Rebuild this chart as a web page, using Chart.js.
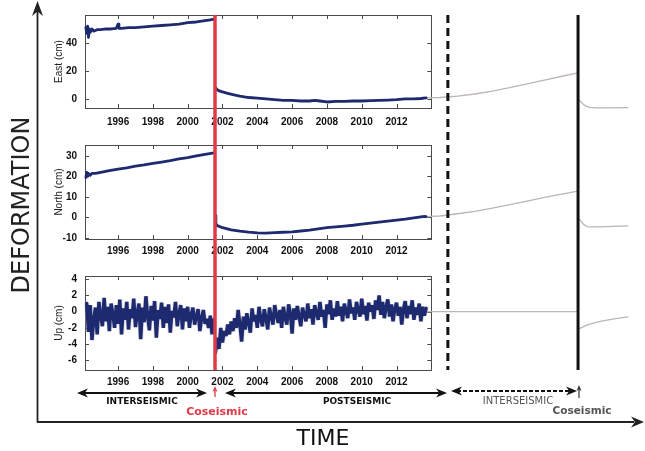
<!DOCTYPE html>
<html>
<head>
<meta charset="utf-8">
<script src="https://cdn.jsdelivr.net/npm/chart.js@4.4.1/dist/chart.umd.min.js"></script>
<style>
  html, body { margin: 0; padding: 0; background: #fff; }
  #wrap { position: relative; width: 645px; height: 451px; overflow: hidden; background: #fff; }
  #wrap canvas { position: absolute; left: 0; }
  #overlay { position: absolute; left: 0; top: 0; }
</style>
</head>
<body>
<div id="wrap">
  <canvas id="east" width="645" height="128" style="top:0px"></canvas>
  <canvas id="north" width="645" height="134" style="top:128px"></canvas>
  <canvas id="up" width="645" height="130" style="top:262px"></canvas>
  <svg id="overlay" width="645" height="451"></svg>
</div>
<script>
// time axis (decimal years)
const X_MIN = 1994.1;
const X_MAX = 2025.3;
const BOX_END = 2014.0;
const quakeYear = 2001.57;
const nextCycleYear = 2014.95;
const nextQuakeYear = 2022.43;
const xTicks = [1996, 1998, 2000, 2002, 2004, 2006, 2008, 2010, 2012];

// East (cm)
const eastPreYears = [1994.15, 1994.2, 1994.25, 1994.3, 1994.35, 1994.4, 1994.5, 1994.6, 1994.8, 1995.0, 1995.3, 1995.6, 1995.9, 1996.0, 1996.05, 1996.2, 1996.6, 1997.0, 1997.5, 1998.0, 1998.5, 1999.0, 1999.5, 2000.0, 2000.5, 2001.0, 2001.3, 2001.52];
const eastPreValues = [51, 47, 52, 44, 50, 47.5, 50, 48.5, 49.5, 49.5, 50, 50, 50.5, 53.5, 50.5, 50.5, 51, 51, 51.5, 52, 52.5, 53, 53.5, 54.5, 55, 56, 56.5, 57];
const eastPostYears = [2001.6, 2001.7, 2001.85, 2002.0, 2002.3, 2002.6, 2003.0, 2003.5, 2004.0, 2004.5, 2005.0, 2005.5, 2006.0, 2006.5, 2007.0, 2007.3, 2007.6, 2008.0, 2008.5, 2009.0, 2009.5, 2010.0, 2010.5, 2011.0, 2011.5, 2012.0, 2012.5, 2013.0, 2013.4, 2013.7];
const eastPostValues = [8, 6.5, 5.5, 5, 4, 3, 2, 1, 0.5, 0, -0.5, -1, -1, -1.5, -1.5, -1, -1.5, -2.2, -1.8, -1.7, -1.5, -1.5, -1.2, -1, -0.8, -0.5, 0, 0, 0.3, 0.7];
const eastFutureYears = [2013.7, 2014.5, 2015.5, 2016.5, 2017.5, 2018.5, 2019.5, 2020.5, 2021.5, 2022.43];
const eastFutureValues = [0.7, 1, 2, 3.5, 5.6, 8, 10.8, 13.5, 16.2, 18.6];
const eastNextYears = [2022.5, 2022.65, 2022.85, 2023.1, 2023.5, 2024.2, 2025.3];
const eastNextValues = [-0.7, -3, -5, -6, -6.4, -6.4, -6.2];

// North (cm)
const northPreYears = [1994.15, 1994.2, 1994.25, 1994.3, 1994.4, 1994.5, 1994.7, 1995.0, 1995.5, 1996.0, 1996.5, 1997.0, 1997.5, 1998.0, 1998.5, 1999.0, 1999.5, 2000.0, 2000.5, 2001.0, 2001.52];
const northPreValues = [19.5, 22, 20, 21.5, 20.5, 21.5, 21.5, 22, 22.8, 23.5, 24.2, 25, 25.6, 26.3, 27, 27.7, 28.5, 29.2, 30, 30.7, 31.5];
const northPostYears = [2001.58, 2001.62, 2001.7, 2002.0, 2002.5, 2003.0, 2003.5, 2004.0, 2004.5, 2005.0, 2005.5, 2006.0, 2006.5, 2007.0, 2007.5, 2008.0, 2008.5, 2009.0, 2009.5, 2010.0, 2010.5, 2011.0, 2011.5, 2012.0, 2012.5, 2013.0, 2013.6, 2013.7];
const northPostValues = [1, -3, -4, -5, -6, -6.7, -7.2, -7.5, -7.6, -7.4, -7.2, -7, -6.6, -6.2, -5.6, -5, -4.6, -4.2, -3.8, -3.3, -2.8, -2.3, -1.8, -1.3, -0.8, -0.2, 0.5, 0.4];
const northFutureYears = [2013.7, 2014.5, 2015.5, 2016.5, 2017.5, 2018.5, 2019.5, 2020.5, 2021.5, 2022.43];
const northFutureValues = [0.4, 0.7, 1.8, 3, 4.5, 6.2, 8, 9.8, 11.4, 12.8];
const northNextYears = [2022.5, 2022.7, 2022.95, 2023.5, 2024.5, 2025.3];
const northNextValues = [-0.7, -3, -4.5, -4.6, -4.3, -4.1];

// Up (cm), sampled every 0.1 yr
const upPreStart = 1994.2;
const upPostStart = 2001.6;
const upStep = 0.1;
const upPreValues = [
  1.0, -2.5, 0.8, -3.5, -1.0, 0.5, -2.8, 1.2, -0.5, -1.8,
  1.7, -1.2, 0.6, -2.4, 1.0, -0.3, -2.0, 0.8, -1.5, 1.5,
  -2.8, 0.4, -1.0, 1.2, -2.2, 0.3, -0.8, 1.6, -1.9, -0.2,
  1.0, -3.4, 0.5, -1.3, 1.9, -0.6, -2.3, 0.7, -1.1, 1.3,
  -3.2, 0.2, -0.9, 1.1, -2.0, 0.6, -1.4, 0.9, -2.6, 0.1,
  -0.7, 1.2, -1.8, -0.3, 0.8, -2.2, 0.4, -1.2, 0.6, -2.0,
  -0.4, 0.5, -1.6, -0.6, 0.3, -2.4, -0.8, 0.2, -1.5, -0.9,
  -2.0, -0.5, -2.8, -1.0
];
const upPostValues = [
  -5.0, -3.2, -4.6, -2.0, -3.8, -2.4, -3.0, -1.6, -2.8, -1.2,
  -2.4, -0.8, -2.0, 0.2, -1.6, -3.7, -0.6, -2.2, -0.2, -1.4,
  -2.6, 0.4, -1.2, -0.4, -2.0, 0.6, -1.0, -1.8, 0.3, -0.8,
  -2.2, 0.5, -0.6, -1.6, 0.8, -0.4, -1.4, 0.2, -2.0, 0.6,
  -0.8, -1.6, 0.9, -0.2, -2.7, 0.4, -1.0, 0.7, -0.6, -1.8,
  0.5, -0.4, -1.2, 1.0, -0.8, 0.3, -1.6, 0.8, -0.2, -1.0,
  1.2, -0.6, 0.2, -2.0, 0.9, -0.3, 1.4, -1.0, 0.4, -0.6,
  1.3, -0.5, 0.6, -1.2, 1.0, 0.0, -0.8, 1.5, -0.2, 0.5,
  -1.0, 1.2, 0.2, -0.6, 1.6, -0.3, 0.7, -1.1, 1.1, 0.0,
  0.8, -0.9, 1.4, 0.2, 2.0, -0.4, 1.2, -0.8, 0.6, 1.5,
  -0.6, 0.9, -1.2, 0.4, 1.1, -0.5, 0.6, -1.6, 0.3, 1.3,
  -0.8, 0.7, -0.3, 1.4, -1.0, 0.5, -0.4, 1.0, -1.2, 0.6,
  -0.5, 0.4
];
const upFutureYears = [2013.7, 2022.43];
const upFutureValues = [0, 0];
const upNextYears = [2022.5, 2023.0, 2023.7, 2024.5, 2025.3];
const upNextValues = [-2.1, -1.6, -1.2, -0.9, -0.65];

const NAVY = '#1d2a70';
const GREY = '#bdb4b8';
const TICK_FONT = { family: 'Liberation Sans', size: 10, weight: 'bold' };

const pts = (xs, ys) => xs.map((x, i) => ({ x: x, y: ys[i] }));
const sampled = (start, step, ys) => ys.map((y, i) => ({ x: +(start + i * step).toFixed(2), y: y }));

// box with inward ticks + the vertical event lines
const framePlugin = {
  id: 'frame',
  beforeDatasetsDraw(chart, args, opts) {
    const { ctx, chartArea, scales } = chart;
    const left = scales.x.getPixelForValue(X_MIN);
    const right = scales.x.getPixelForValue(BOX_END);
    const top = chartArea.top, bottom = chartArea.bottom;
    ctx.save();
    ctx.strokeStyle = '#4a4a4a';
    ctx.lineWidth = 1;
    ctx.strokeRect(Math.round(left) + 0.5, Math.round(top) + 0.5, Math.round(right - left), Math.round(bottom - top));
    ctx.beginPath();
    xTicks.forEach(v => {
      const px = Math.round(scales.x.getPixelForValue(v)) + 0.5;
      ctx.moveTo(px, bottom); ctx.lineTo(px, bottom - 4);
      ctx.moveTo(px, top); ctx.lineTo(px, top + 4);
    });
    opts.yTicks.forEach(v => {
      const py = Math.round(scales.y.getPixelForValue(v)) + 0.5;
      ctx.moveTo(left, py); ctx.lineTo(left + 4, py);
      ctx.moveTo(right, py); ctx.lineTo(right - 4, py);
    });
    ctx.stroke();
    ctx.restore();
  },
  afterDatasetsDraw(chart, args, opts) {
    const { ctx, chartArea, scales } = chart;
    const top = opts.fromCanvasTop ? 0 : chartArea.top;
    const bottom = opts.toCanvasBottom ? chart.height : chartArea.bottom;
    const lines = [
      { year: quakeYear, color: '#e03a48', width: 3.5, dash: [] },
      { year: nextCycleYear, color: '#111', width: 3, dash: [8, 5] },
      { year: nextQuakeYear, color: '#111', width: 3, dash: [] }
    ];
    ctx.save();
    lines.forEach(l => {
      const px = scales.x.getPixelForValue(l.year);
      ctx.strokeStyle = l.color;
      ctx.lineWidth = l.width;
      ctx.setLineDash(l.dash);
      ctx.lineDashOffset = opts.dashOffset || 0;
      ctx.beginPath();
      ctx.moveTo(px, top);
      ctx.lineTo(px, bottom);
      ctx.stroke();
    });
    ctx.restore();
  }
};

function makePanel(id, cfg) {
  return new Chart(document.getElementById(id), {
    type: 'line',
    data: { datasets: cfg.datasets },
    options: {
      responsive: false,
      animation: false,
      events: [],
      layout: { padding: { left: 53, right: 17, top: cfg.padTop, bottom: 0 } },
      plugins: {
        legend: { display: false },
        tooltip: { enabled: false },
        frame: { yTicks: cfg.yTicks, fromCanvasTop: cfg.fromCanvasTop, toCanvasBottom: cfg.toCanvasBottom, dashOffset: cfg.dashOffset }
      },
      elements: { point: { radius: 0 }, line: { tension: 0, borderJoinStyle: 'round', borderCapStyle: 'round' } },
      scales: {
        x: {
          type: 'linear',
          min: X_MIN,
          max: X_MAX,
          afterBuildTicks: s => { s.ticks = xTicks.map(v => ({ value: v })); },
          afterFit: s => { s.height = cfg.axisHeight; },
          grid: { display: false, drawTicks: false },
          border: { display: false },
          ticks: { padding: cfg.xPad, autoSkip: false, maxRotation: 0, color: '#111', font: TICK_FONT, callback: v => String(v) }
        },
        y: {
          min: cfg.yMin,
          max: cfg.yMax,
          afterBuildTicks: s => { s.ticks = cfg.yTicks.map(v => ({ value: v })); },
          afterFit: s => { s.width = 32; },
          grid: { display: false, drawTicks: false },
          border: { display: false },
          ticks: { padding: 8, color: '#111', font: TICK_FONT, callback: v => String(v) },
          title: { display: true, text: cfg.title, color: '#222', padding: 0, font: { family: 'Liberation Sans', size: 10 } }
        }
      }
    },
    plugins: [framePlugin]
  });
}

function lineSet(data, color, width, order, join) {
  return { data: data, borderColor: color, borderWidth: width, pointRadius: 0, fill: false, clip: false, order: order, borderJoinStyle: join || 'round' };
}

makePanel('east', {
  title: 'East (cm)', yMin: -6.5, yMax: 60, yTicks: [0, 20, 40],
  padTop: 15, axisHeight: 20, xPad: 8, fromCanvasTop: false, toCanvasBottom: true, dashOffset: 0,
  datasets: [
    lineSet(pts(eastPreYears, eastPreValues), NAVY, 2.8, 1),
    lineSet(pts(eastPostYears, eastPostValues), NAVY, 2.8, 1),
    lineSet(pts(eastFutureYears, eastFutureValues), GREY, 1.3, 3),
    lineSet(pts(eastNextYears, eastNextValues), GREY, 1.3, 3)
  ]
});

makePanel('north', {
  title: 'North (cm)', yMin: -10.5, yMax: 35.3, yTicks: [-10, 0, 10, 20, 30],
  padTop: 17, axisHeight: 23, xPad: 6, fromCanvasTop: true, toCanvasBottom: true, dashOffset: 128 - 15,
  datasets: [
    lineSet(pts(northPreYears, northPreValues), NAVY, 2.8, 1),
    lineSet(pts(northPostYears, northPostValues), NAVY, 2.8, 1),
    lineSet(pts(northFutureYears, northFutureValues), GREY, 1.3, 3),
    lineSet(pts(northNextYears, northNextValues), GREY, 1.3, 3)
  ]
});

makePanel('up', {
  title: 'Up (cm)', yMin: -7.2, yMax: 4.4, yTicks: [-6, -4, -2, 0, 2, 4],
  padTop: 14, axisHeight: 22, xPad: 6, fromCanvasTop: true, toCanvasBottom: false, dashOffset: 262 - 15,
  datasets: [
    lineSet(sampled(upPreStart, upStep, upPreValues), NAVY, 3.4, 1, 'bevel'),
    lineSet(sampled(upPostStart, upStep, upPostValues), NAVY, 3.4, 1, 'bevel'),
    lineSet(sampled(upPreStart, upStep, upPreValues), 'rgba(175,175,190,0.45)', 5, 4, 'bevel'),
    lineSet(sampled(upPostStart, upStep, upPostValues), 'rgba(175,175,190,0.45)', 5, 4, 'bevel'),
    lineSet(pts(upFutureYears, upFutureValues), GREY, 1.3, 3),
    lineSet(pts(upNextYears, upNextValues), GREY, 1.3, 3)
  ]
});

// annotation overlay: big axes, phase arrows and labels
const svg = document.getElementById('overlay');
const NS = 'http://www.w3.org/2000/svg';
function add(tag, attrs, text) {
  const el = document.createElementNS(NS, tag);
  Object.keys(attrs).forEach(k => el.setAttribute(k, attrs[k]));
  if (text) el.textContent = text;
  svg.appendChild(el);
  return el;
}
function head(tipX, tipY, dir, color, len, half) {
  // dir: 1 right, -1 left, 0 up
  let p;
  if (dir === 0) {
    p = [[tipX, tipY], [tipX - half, tipY + len], [tipX, tipY + len * 0.7], [tipX + half, tipY + len]];
  } else {
    p = [[tipX, tipY], [tipX - dir * len, tipY - half], [tipX - dir * len * 0.7, tipY], [tipX - dir * len, tipY + half]];
  }
  add('polygon', { points: p.map(q => q.join(',')).join(' '), fill: color });
}
function doubleArrow(x1, x2, y, dashed) {
  add('line', { x1: x1 + 6, y1: y, x2: x2 - 6, y2: y, stroke: '#111', 'stroke-width': 2, 'stroke-dasharray': dashed ? '4 2' : 'none' });
  head(x1, y, -1, '#111', 11, 4.5);
  head(x2, y, 1, '#111', 11, 4.5);
}

// DEFORMATION / TIME axes
add('line', { x1: 37.5, y1: 422, x2: 37.5, y2: 10, stroke: '#222', 'stroke-width': 1.8 });
head(37.5, 1, 0, '#222', 15, 5.5);
add('line', { x1: 37, y1: 422, x2: 634, y2: 422, stroke: '#222', 'stroke-width': 2 });
head(644, 422, 1, '#222', 13, 5.5);
add('text', { transform: 'translate(29,205) rotate(-90)', 'text-anchor': 'middle', 'font-family': 'DejaVu Sans', 'font-size': 24, fill: '#222' }, 'DEFORMATION');
add('text', { x: 323, y: 445, 'text-anchor': 'middle', 'font-family': 'DejaVu Sans', 'font-size': 22, fill: '#111' }, 'TIME');

// phase arrows
doubleArrow(77, 207, 393, false);
doubleArrow(225, 447, 393, false);
doubleArrow(451, 577, 391, true);
add('line', { x1: 215, y1: 397, x2: 215, y2: 390, stroke: '#e03a48', 'stroke-width': 1.3 });
head(215, 386, 0, '#e03a48', 6, 2.5);
add('line', { x1: 579, y1: 398, x2: 579, y2: 389, stroke: '#333', 'stroke-width': 1.2 });
head(579, 385, 0, '#333', 6, 2.5);

const boldLabel = { 'text-anchor': 'middle', 'font-family': 'DejaVu Sans', 'font-size': 9, 'font-weight': 'bold', fill: '#111' };
add('text', Object.assign({ x: 142, y: 404 }, boldLabel), 'INTERSEISMIC');
add('text', Object.assign({ x: 357, y: 404 }, boldLabel), 'POSTSEISMIC');
add('text', { x: 217, y: 415, 'text-anchor': 'middle', 'font-family': 'DejaVu Sans', 'font-size': 11, 'font-weight': 'bold', fill: '#e03a48' }, 'Coseismic');
add('text', { x: 518, y: 404, 'text-anchor': 'middle', 'font-family': 'DejaVu Sans', 'font-size': 10, fill: '#555' }, 'INTERSEISMIC');
add('text', { x: 582, y: 414, 'text-anchor': 'middle', 'font-family': 'DejaVu Sans', 'font-size': 10.5, 'font-weight': 'bold', fill: '#555' }, 'Coseismic');
</script>
</body>
</html>
